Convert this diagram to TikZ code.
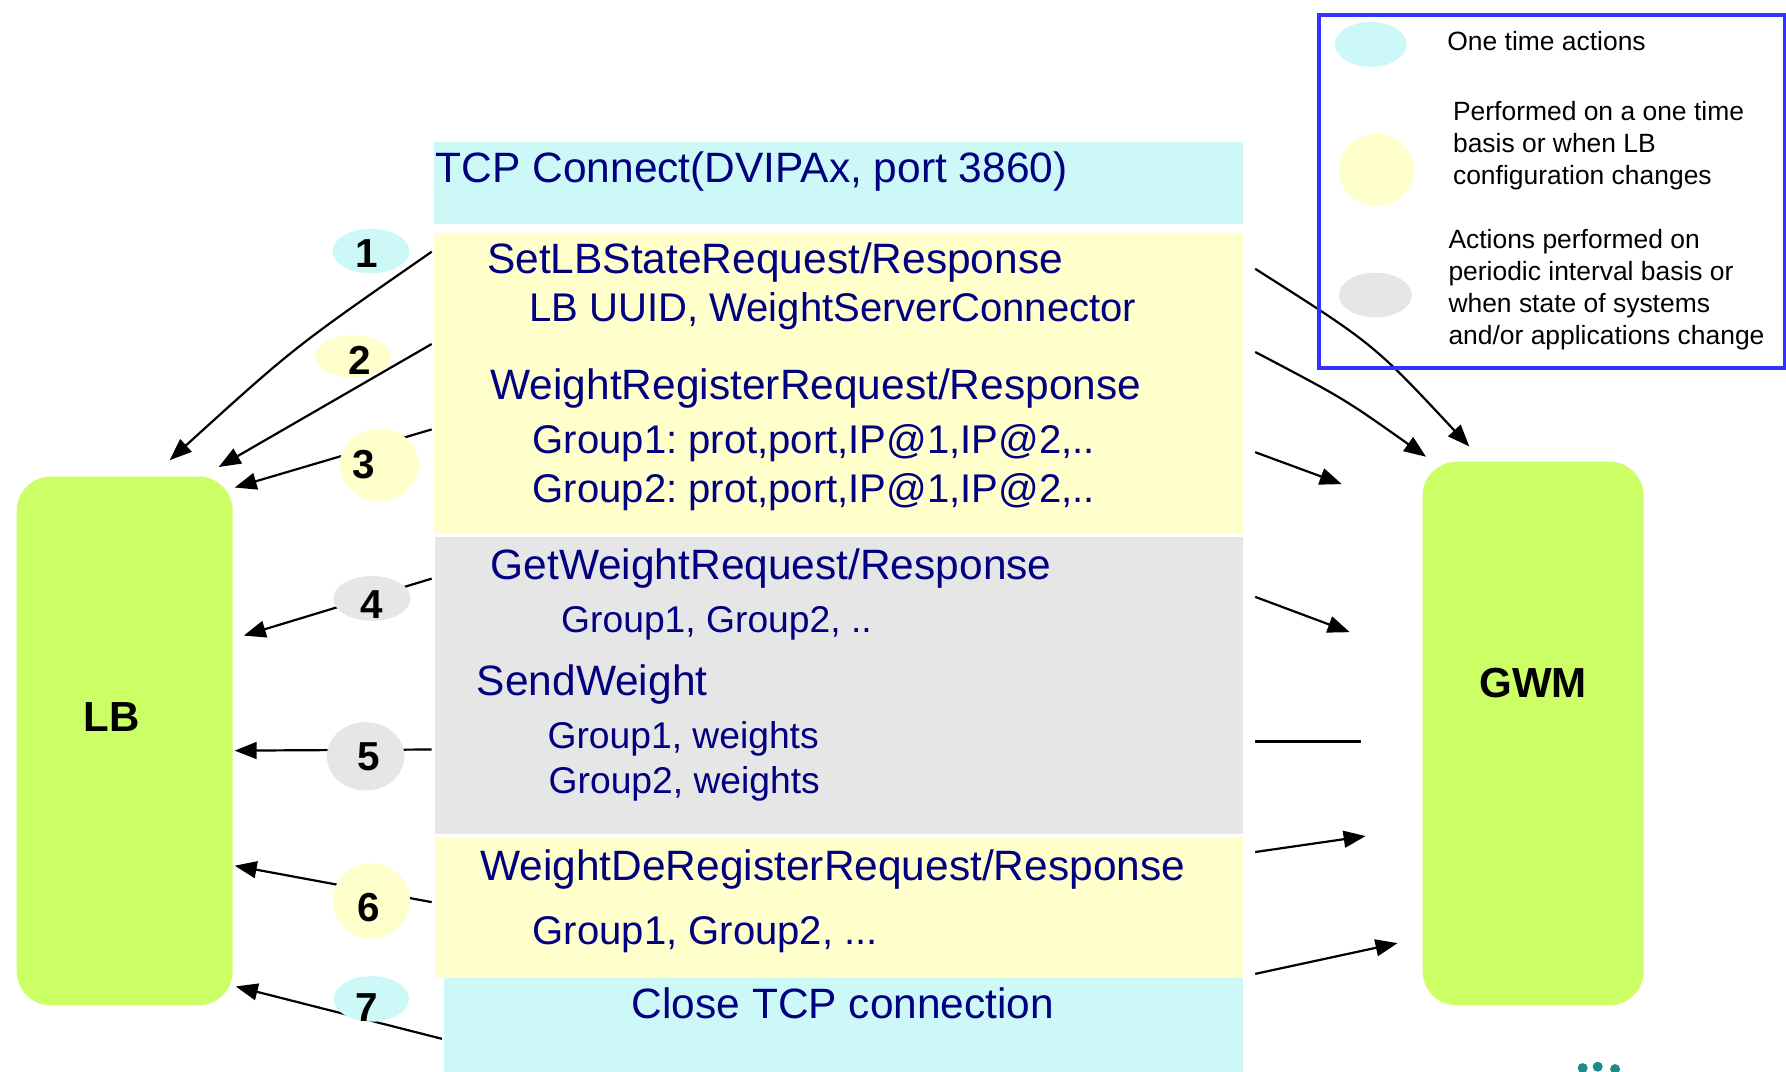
\documentclass[tikz,border=0pt]{standalone}
\usepackage{fontspec}
\setmainfont{Liberation Sans}
\usetikzlibrary{positioning}
\usetikzlibrary{arrows.meta}
\usetikzlibrary{shapes.geometric}
\frenchspacing

\definecolor{onetime}{RGB}{204,248,248}
\definecolor{config}{RGB}{255,255,204}
\definecolor{periodic}{RGB}{230,230,230}
\definecolor{hostgreen}{RGB}{204,255,102}
\definecolor{msgblue}{RGB}{0,0,128}
\definecolor{legendblue}{RGB}{51,51,255}
\definecolor{logoteal}{RGB}{30,140,140}

\tikzset{ %styles of the message flow
  msgband/.style={rectangle, inner sep=0pt, anchor=north west},
  msgtext/.style={anchor=base west, inner sep=0pt, text=msgblue,
    font=\fontsize{10.6}{12.7}\selectfont},
  msgsub/.style={msgtext, font=\fontsize{10}{12}\selectfont},
  msgsmall/.style={msgtext, font=\fontsize{9.3}{11.2}\selectfont},
  hostbox/.style={rectangle, rounded corners=0.3cm, fill=hostgreen, inner sep=0pt},
  hostname/.style={anchor=base, inner sep=0pt, font=\fontsize{10.5}{12.6}\selectfont\bfseries},
  stepdisc/.style={ellipse, inner sep=0pt},
  stepnum/.style={anchor=base, inner sep=0pt, font=\fontsize{10.1}{12}\selectfont\bfseries},
  legendtext/.style={anchor=base west, inner sep=0pt, align=left,
    font=\fontsize{6.6}{7.97}\selectfont},
  msgarrow/.style={line width=0.55pt, -{Triangle[length=5.5pt,width=4.2pt]}}
}

\begin{document}
\begin{tikzpicture}[x=0.01cm, y=-0.01cm] % pixel grid, y grows downwards
\useasboundingbox (0,0) rectangle (1568,941);

% message bands
\node [msgband, fill=onetime, minimum width=7.10cm, minimum height=0.715cm] (tcpopen) at (380,124) {};
\node [msgband, fill=config, minimum width=7.10cm, minimum height=2.64cm] (setup) at (380,204) {};
\node [msgband, fill=periodic, minimum width=7.09cm, minimum height=2.60cm] (periodic) at (381,471) {};
\node [msgband, fill=config, minimum width=7.09cm, minimum height=1.24cm] (teardown) at (381,734) {};
\node [msgband, fill=onetime, minimum width=7.01cm, minimum height=0.90cm] (tcpclose) at (389,858) {};

\node [msgtext] (m1) at (382,160) {TCP Connect(DVIPAx, port 3860)};
\node [msgtext] (m2) at (427,240) {SetLBStateRequest/Response};
\node [msgsub] (m3) at (464,282) {LB UUID, WeightServerConnector};
\node [msgtext] (m4) at (430,351) {WeightRegisterRequest/Response};
\node [msgsub] (m5) at (467,398) {Group1: prot,port,IP@1,IP@2,..};
\node [msgsub] (m6) at (467,441) {Group2: prot,port,IP@1,IP@2,..};
\node [msgtext] (m7) at (430,509) {GetWeightRequest/Response};
\node [msgsmall] (m8) at (492,555) {Group1, Group2, ..};
\node [msgtext] (m9) at (418,611) {SendWeight};
\node [msgsmall] (m10) at (480,657) {Group1, weights};
\node [msgsmall] (m11) at (481,697) {Group2, weights};
\node [msgtext] (m12) at (421,773) {WeightDeRegisterRequest/Response};
\node [msgsub] (m13) at (467,829) {Group1, Group2, ...};
\node [msgtext] (m14) at (554,894) {Close TCP connection};

% the two hosts
\node [hostbox, minimum width=1.895cm, minimum height=4.64cm] (lb) at (109.5,650.5) {};
\node [hostname] (lbname) at (98,642) {LB};
\node [hostbox, minimum width=1.94cm, minimum height=4.77cm] (gwm) at (1346,644) {};
\node [hostname] (gwmname) at (1346,612) {GWM};

% arrow ends
\coordinate (l1s) at (379,221);  \coordinate (l1e) at (149,404);
\coordinate (l2s) at (379,302);  \coordinate (l2e) at (192,410);
\coordinate (l3s) at (379,377);  \coordinate (l3e) at (206,428);
\coordinate (l4s) at (379,508);  \coordinate (l4e) at (214,558);
\coordinate (l5s) at (379,658);  \coordinate (l5e) at (206,659);
\coordinate (l6s) at (379,792);  \coordinate (l6e) at (206,760);
\coordinate (l7s) at (388,912);  \coordinate (l7e) at (207,866);
\coordinate (r1s) at (1102,236); \coordinate (r1e) at (1290,392);
\coordinate (r2s) at (1102,309); \coordinate (r2e) at (1252,401);
\coordinate (r3s) at (1102,397); \coordinate (r3e) at (1178,425);
\coordinate (r4s) at (1102,524); \coordinate (r4e) at (1185,555);
\coordinate (r5s) at (1102,651); \coordinate (r5e) at (1195,651);
\coordinate (r6s) at (1102,748); \coordinate (r6e) at (1199,734);
\coordinate (r7s) at (1102,855); \coordinate (r7e) at (1227,828);

\draw [msgarrow] (l1s) .. controls (258,305) .. (l1e);
\draw [msgarrow] (l2s) -- (l2e);
\draw [msgarrow] (l3s) -- (l3e);
\draw [msgarrow] (l4s) -- (l4e);
\draw [msgarrow] (l5s) -- (l5e);
\draw [msgarrow] (l6s) -- (l6e);
\draw [msgarrow] (l7s) -- (l7e);
\draw [msgarrow] (r1s) .. controls (1206,302) .. (r1e);
\draw [msgarrow] (r2s) .. controls (1180,350) .. (r2e);
\draw [msgarrow] (r3s) -- (r3e);
\draw [msgarrow] (r4s) -- (r4e);
\draw [line width=0.55pt] (r5s) -- (r5e);
\draw [msgarrow] (r6s) -- (r6e);
\draw [msgarrow] (r7s) -- (r7e);

% step numbers
\node [stepdisc, fill=onetime, minimum width=0.674cm, minimum height=0.39cm] (s1) at (325.7,220.5) {};
\node [stepdisc, fill=config, minimum width=0.668cm, minimum height=0.37cm] (s2) at (310,313) {};
\node [stepdisc, fill=config, minimum width=0.694cm, minimum height=0.636cm] (s3) at (333,408) {};
\node [stepdisc, fill=periodic, minimum width=0.68cm, minimum height=0.392cm] (s4) at (326.6,525.4) {};
\node [stepdisc, fill=periodic, minimum width=0.68cm, minimum height=0.60cm] (s5) at (321,664) {};
\node [stepdisc, fill=config, minimum width=0.68cm, minimum height=0.66cm] (s6) at (326,791) {};
\node [stepdisc, fill=onetime, minimum width=0.66cm, minimum height=0.40cm] (s7) at (326,877) {};
\node [stepnum] (n1) at (322,234.7) {1};
\node [stepnum] (n2) at (316,328.4) {2};
\node [stepnum] (n3) at (319,420) {3};
\node [stepnum] (n4) at (326.3,542.8) {4};
\node [stepnum] (n5) at (323.4,676.6) {5};
\node [stepnum] (n6) at (323.4,809) {6};
\node [stepnum] (n7) at (322,896.4) {7};

% legend
\node [msgband, draw=legendblue, line width=1pt, minimum width=4.09cm, minimum height=3.093cm] (legend) at (1156.5,11.7) {};
\node [stepdisc, fill=onetime, minimum width=0.63cm, minimum height=0.394cm] (k1) at (1203.5,39) {};
\node [stepdisc, fill=config, minimum width=0.66cm, minimum height=0.632cm] (k2) at (1208.5,149) {};
\node [stepdisc, fill=periodic, minimum width=0.64cm, minimum height=0.392cm] (k3) at (1207.5,259) {};
\node [legendtext] (t1) at (1270,44.5) {One time actions};
\node [legendtext] (t2) at (1275,162) {Performed on a one time\\basis or when LB\\configuration changes};
\node [legendtext] (t3) at (1271,302) {Actions performed on\\periodic interval basis or\\when state of systems\\and/or applications change};

% logo fragment
\fill [logoteal] (1389.5,937.7) circle (0.044cm);
\fill [logoteal] (1402.7,936.5) circle (0.044cm);
\fill [logoteal] (1418,938.6) circle (0.044cm);
\end{tikzpicture}
\end{document}
